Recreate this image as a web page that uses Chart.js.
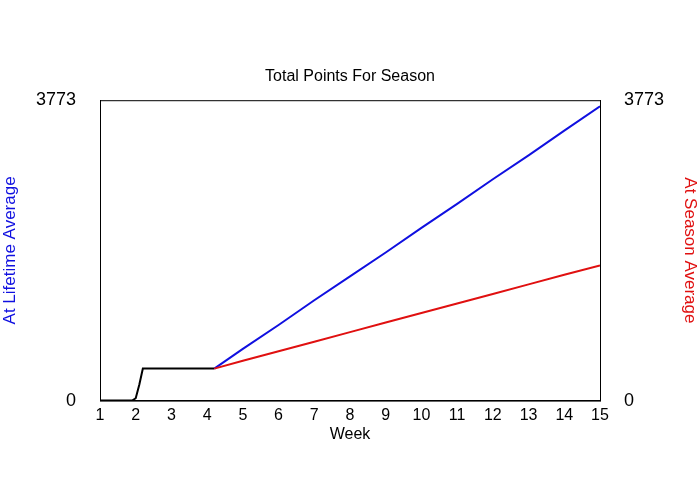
<!DOCTYPE html>
<html><head><script src="https://cdn.jsdelivr.net/npm/chart.js@4"></script>
<style>body{margin:0;background:#fff}#w{width:700px;height:500px}</style></head>
<body><div id="w"><canvas id="c"></canvas></div>
<script>
const blackWeeks=[1,1.9,2.0,2.1,2.2,3,4,4.2];
const blackVals=[0,0,30,200,402,402,402,402];
const blueWeeks=[4.2,5,6,7,8,9,10,11,12,13,14,15];
const blueVals=[402,650,950,1260,1560,1860,2170,2470,2780,3080,3390,3697];
const redWeeks=[4.2,5,6,7,8,9,10,11,12,13,14,15];
const redVals=[402,500,620,740,860,980,1100,1220,1340,1460,1580,1698];
const yTicks=[0,3773];
const xy=(xs,ys)=>xs.map((x,i)=>({x,y:ys[i]}));
const F="'Liberation Sans', Arial";
const frame={id:'frame',afterDraw(c){const a=c.chartArea,g=c.ctx;g.save();g.strokeStyle='#000';g.lineWidth=1;g.strokeRect(a.left+.5,a.top+.5,a.right-a.left,a.bottom-a.top);g.restore();}};
new Chart(document.getElementById('c'),{type:'line',
data:{datasets:[
{data:xy(redWeeks,redVals),borderColor:'#e01010',borderWidth:2,pointRadius:0,yAxisID:'y'},
{data:xy(blueWeeks,blueVals),borderColor:'#1010e0',borderWidth:2,pointRadius:0,yAxisID:'y'},
{data:xy(blackWeeks,blackVals),borderColor:'#000',borderWidth:2,pointRadius:0,yAxisID:'y'}]},
options:{animation:false,responsive:true,maintainAspectRatio:false,
layout:{padding:{top:67,left:0,right:0,bottom:56}},
plugins:{legend:{display:false},tooltip:{enabled:false},
title:{display:true,text:'Total Points For Season',color:'#000',font:{family:F,size:16,weight:'normal'},padding:{bottom:14}}},
scales:{
x:{type:'linear',min:1,max:15,grid:{display:false,drawTicks:true,tickLength:5,color:'#000'},border:{color:'#000'},
ticks:{stepSize:1,color:'#000',font:{family:F,size:16},padding:0},
title:{display:true,text:'Week',color:'#000',font:{family:F,size:16},padding:0}},
y:{min:0,max:3773,position:'left',grid:{display:false},border:{color:'#000'},afterFit:a=>{a.width=100},
afterBuildTicks:a=>{a.ticks=yTicks.map(v=>({value:v}))},
ticks:{color:'#000',font:{family:F,size:18},padding:16,callback:v=>String(v)},
title:{display:true,text:'At Lifetime Average',color:'#1010e0',font:{family:F,size:17},padding:{top:0,bottom:20}}},
y2:{min:0,max:3773,position:'right',grid:{display:false},border:{color:'#000'},afterFit:a=>{a.width=100},
afterBuildTicks:a=>{a.ticks=yTicks.map(v=>({value:v}))},
ticks:{color:'#000',font:{family:F,size:18},padding:16,callback:v=>String(v)},
title:{display:true,text:'At Season Average',color:'#e01010',font:{family:F,size:17},padding:{top:0,bottom:20}}}}},
plugins:[frame]});
</script></body></html>
